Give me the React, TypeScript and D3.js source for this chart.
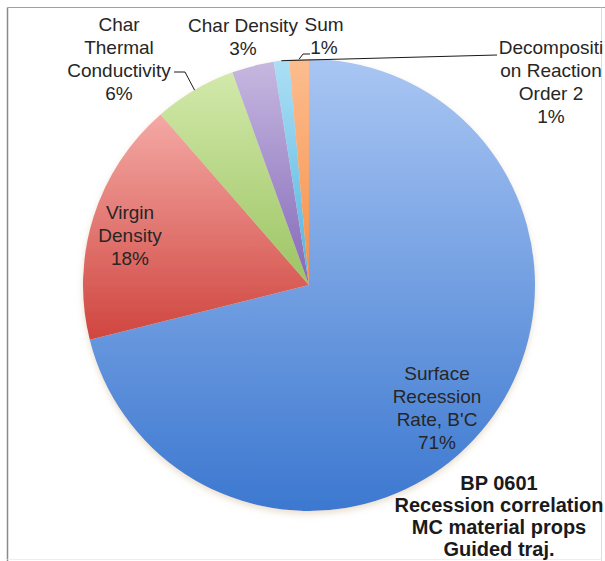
import React from "react";
import * as d3 from "d3";

const categories = [
  "Surface Recession Rate, B'C",
  "Virgin Density",
  "Char Thermal Conductivity",
  "Char Density",
  "Decomposition Reaction Order 2",
  "Sum",
];
const values = [71.1, 17.5, 5.9, 3.0, 1.1, 1.4];
const pctLabels = ["71%", "18%", "6%", "3%", "1%", "1%"];
const labelLines = [
  ["Surface", "Recession", "Rate, B'C"],
  ["Virgin", "Density"],
  ["Char", "Thermal", "Conductivity"],
  ["Char Density"],
  ["Decompositi", "on Reaction", "Order 2"],
  ["Sum"],
];
const noteLines = ["BP 0601", "Recession correlation", "MC material props", "Guided traj."];

// gradient colours (top, bottom) per slice
const gradTop = ["#a9c6f3", "#f4a9a5", "#d2e9aa", "#c6b8e0", "#acdff5", "#fcbd8f"];
const gradBottom = ["#3c78d0", "#d0453f", "#9cc463", "#8468b8", "#52b3de", "#f58f48"];

// label layout (centre x, first line centre y)
const labelPos = [
  { x: 437, y: 373 },
  { x: 130, y: 212 },
  { x: 119, y: 24 },
  { x: 243, y: 25 },
  { x: 551, y: 47 },
  { x: 324, y: 24 },
];

const W = 605;
const H = 561;
const cx = 309;
const cy = 285;
const R = 226;
const LH = 23;
const FONT = "'Liberation Sans', Arial, sans-serif";

export default function App() {
  const pie = d3.pie<number>().sort(null).value((d) => d);
  const arcs = pie(values);
  const arc = d3.arc<d3.PieArcDatum<number>>().innerRadius(0).outerRadius(R);
  const edgePoint = (i: number): [number, number] => {
    const a = (arcs[i].startAngle + arcs[i].endAngle) / 2;
    return [cx + R * Math.sin(a), cy - R * Math.cos(a)];
  };
  const line = d3.line();

  const leaders: [number, number][][] = [
    [[174, 72], [185, 72], edgePoint(2)],
    [[497, 55], edgePoint(4)],
    [[310, 54], [303, 54], edgePoint(5)],
  ];

  return (
    <svg
      width={W}
      height={H}
      style={{ position: "absolute", left: 0, top: 0, background: "#fff" }}
      fontFamily={FONT}
    >
      <defs>
        {values.map((_, i) => (
          <linearGradient key={i} id={`g${i}`} x1="0" y1="0" x2="0" y2="1">
            <stop offset="0%" stopColor={gradTop[i]} />
            <stop offset="100%" stopColor={gradBottom[i]} />
          </linearGradient>
        ))}
        <filter id="sh" x="-10%" y="-10%" width="120%" height="125%">
          <feDropShadow dx="0" dy="3" stdDeviation="3" floodColor="#d8c8ac" floodOpacity="0.6" />
        </filter>
      </defs>
      <rect x={0} y={0} width={W} height={H} fill="#fff" />
      <line x1={7.5} y1={7.5} x2={7.5} y2={H} stroke="#8a8a8a" strokeWidth={1.5} />
      <line x1={7.5} y1={7.5} x2={W} y2={7.5} stroke="#a0a0a0" strokeWidth={1.2} />
      <line x1={601.5} y1={7.5} x2={601.5} y2={H} stroke="#dddddd" strokeWidth={1} />
      <line x1={7.5} y1={559.5} x2={601.5} y2={559.5} stroke="#eeeeee" strokeWidth={1} />

      <g transform={`translate(${cx},${cy})`} filter="url(#sh)">
        {arcs.map((a, i) => (
          <path key={categories[i]} d={arc(a) || ""} fill={`url(#g${i})`} />
        ))}
      </g>

      {leaders.map((pts, i) => (
        <path key={i} d={line(pts) || ""} fill="none" stroke="#1a1a1a" strokeWidth={1} />
      ))}

      {labelLines.map((lines, i) => {
        const all = [...lines, pctLabels[i]];
        return (
          <text
            key={categories[i]}
            x={labelPos[i].x}
            textAnchor="middle"
            fontSize={19}
            fill="#262626"
          >
            {all.map((t, j) => (
              <tspan key={j} x={labelPos[i].x} y={labelPos[i].y + j * LH} dy="0.35em">
                {t}
              </tspan>
            ))}
          </text>
        );
      })}

      <text textAnchor="middle" fontSize={20} fontWeight="bold" fill="#1a1a1a">
        {noteLines.map((t, j) => (
          <tspan key={j} x={499} y={483 + j * 22} dy="0.35em">
            {t}
          </tspan>
        ))}
      </text>
    </svg>
  );
}
